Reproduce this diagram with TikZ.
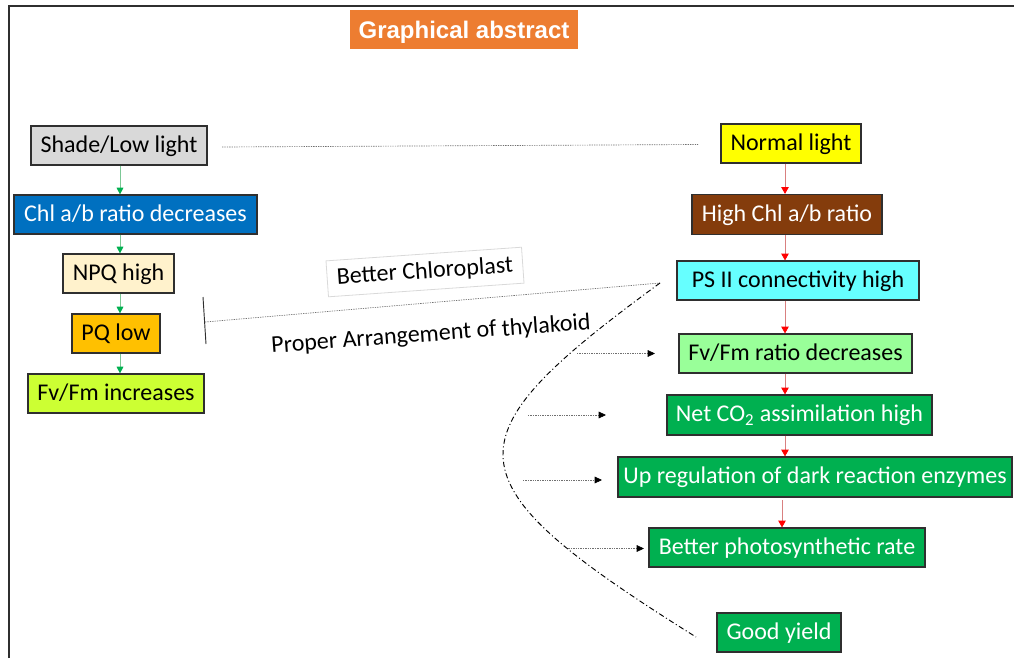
\documentclass[tikz,border=0pt]{standalone}
\usepackage{fontspec}
\setmainfont{Carlito}
\newfontfamily\titlefont{Liberation Sans}
\usetikzlibrary{arrows.meta}
\definecolor{cBorder}{HTML}{2F2F2F}
\definecolor{cShade}{HTML}{D9D9D9}
\definecolor{cBlue}{HTML}{0070C0}
\definecolor{cNPQ}{HTML}{FFF2CC}
\definecolor{cPQ}{HTML}{FFC000}
\definecolor{cLime}{HTML}{CCFF33}
\definecolor{cYellow}{HTML}{FFFF00}
\definecolor{cBrown}{HTML}{843C0C}
\definecolor{cCyan}{HTML}{66FFFF}
\definecolor{cLightGreen}{HTML}{99FF99}
\definecolor{cGreen}{HTML}{00B050}
\definecolor{cOrange}{HTML}{ED7D31}
\definecolor{cGLine}{HTML}{7CC896}
\definecolor{cRLine}{HTML}{D98080}
\definecolor{cDot}{HTML}{707070}
\tikzset{
  box/.style={draw=cBorder, line width=0.9pt, inner sep=0pt,
    font=\fontsize{18}{21}\selectfont, minimum height=29.25pt,
    text height=10.4pt, text depth=0pt},
  garr/.style={draw=cGLine, line width=0.6pt, -{Triangle[length=5pt,width=5pt,fill=cGreen,color=cGreen]}},
  rarr/.style={draw=cRLine, line width=0.6pt, -{Triangle[length=5pt,width=5.5pt,fill=red,color=red]}},
  dotline/.style={draw=cDot, line width=0.5pt, dash pattern=on 1pt off 0.8pt},
  karr/.style={dotline, -{Triangle[length=5.5pt,width=5pt,fill=black,color=black]}},
  dashdot/.style={draw=black, line width=0.7pt, dash pattern=on 4pt off 2pt on 0.8pt off 2pt},
  label/.style={font=\fontsize{18}{21}\selectfont, inner sep=0pt}
}
\begin{document}
\begin{tikzpicture}[x=0.75pt,y=-0.75pt]
\useasboundingbox (0,0) rectangle (1014,658);
% frame
\draw[cBorder, line width=1.5pt] (8.5,658) -- (8.5,6) -- (1014,6);
% title
\node[fill=cOrange, text=white, inner sep=0pt, minimum width=171pt, minimum height=29.25pt,
  text height=12.9pt, text depth=0pt,
  font=\titlefont\bfseries\fontsize{18}{21}\selectfont] (title) at (464,29.5) {Graphical abstract};
% left column
\node[box, fill=cShade, minimum width=132pt] (shade) at (119,145.5) {Shade/Low light};
\node[box, fill=cBlue, text=white, minimum width=182.25pt] (chl) at (135.5,214.5) {Chl a/b ratio decreases};
\node[box, fill=cNPQ, minimum width=83.25pt] (npq) at (118.5,273.5) {NPQ high};
\node[box, fill=cPQ, minimum width=66pt] (pq) at (116,333.5) {PQ low};
\node[box, fill=cLime, minimum width=132pt] (fvfm) at (116,393.5) {Fv/Fm increases};
% right column
\node[box, fill=cYellow, minimum width=105pt] (normal) at (791,143.5) {Normal light};
\node[box, fill=cBrown, text=white, minimum width=142.5pt, minimum height=30pt] (highchl) at (787,214.5) {High Chl a/b ratio};
\node[box, fill=cCyan, minimum width=181.5pt] (ps2) at (798,280.5) {PS II connectivity high\hspace{6pt}};
\node[box, fill=cLightGreen, minimum width=174.75pt] (fvr) at (795.5,353.5) {Fv/Fm ratio decreases};
\node[box, fill=cGreen, text=white, minimum width=198.75pt, minimum height=30pt] (net) at (799.5,415) {Net CO\textsubscript{2} assimilation high};
\node[box, fill=cGreen, text=white, minimum width=295.5pt, minimum height=30pt] (up) at (815,477) {Up regulation of dark reaction enzymes};
\node[box, fill=cGreen, text=white, minimum width=207pt] (better) at (787,547.5) {Better photosynthetic rate};
\node[box, fill=cGreen, text=white, minimum width=93pt] (good) at (779,632.5) {Good yield};
% arrow columns
\coordinate (lcol) at (120,0);
\coordinate (rcol) at (785,0);
\coordinate (rcolb) at (782,0);
\draw[garr] (lcol |- shade.south) -- (lcol |- chl.north);
\draw[garr] (lcol |- chl.south) -- (lcol |- npq.north);
\draw[garr] (lcol |- npq.south) -- (lcol |- pq.north);
\draw[garr] (lcol |- pq.south) -- (lcol |- fvfm.north);
\draw[rarr] (rcol |- normal.south) -- (rcol |- highchl.north);
\draw[rarr] (rcol |- highchl.south) -- (rcol |- ps2.north);
\draw[rarr] (rcol |- ps2.south) -- (rcol |- fvr.north);
\draw[rarr] (rcol |- fvr.south) -- (rcol |- net.north);
\draw[rarr] (rcol |- net.south) -- (rcol |- up.north);
\draw[rarr] ([yshift=-2pt]rcolb |- up.south) -- (rcolb |- better.north);
% top dotted link
\coordinate (tl) at (222,147);
\coordinate (tr) at (698,144.5);
\draw[dotline] (tl) -- (tr);
% better chloroplast link
\coordinate (bar1) at (203,297);
\coordinate (bar2) at (206,344);
\coordinate (barm) at (205,322);
\coordinate (apex) at (660,283);
\coordinate (cend) at (696,637);
\draw[cBorder, line width=0.7pt] (bar1) -- (bar2);
\draw[dotline] (barm) -- (apex);
\node[label, draw=black!15, line width=0.6pt, rotate=4, minimum width=147pt, minimum height=27pt] (bc) at (425,272) {Better Chloroplast};
\node[label, rotate=4.2] (pat) at (431,335) {Proper Arrangement of thylakoid};
% dash-dot curve
\draw[dashdot] (apex) .. controls (445,440) and (445,480) .. (cend);
% horizontal arrows from curve
\coordinate (h1s) at (577,353.5);
\coordinate (h1e) at (655,353.5);
\coordinate (h2s) at (528,415);
\coordinate (h2e) at (606,415);
\coordinate (h3s) at (523,480);
\coordinate (h3e) at (602,480);
\coordinate (h4s) at (566,548.5);
\coordinate (h4e) at (644,548.5);
\draw[karr] (h1s) -- (h1e);
\draw[karr] (h2s) -- (h2e);
\draw[karr] (h3s) -- (h3e);
\draw[karr] (h4s) -- (h4e);
\end{tikzpicture}
\end{document}
